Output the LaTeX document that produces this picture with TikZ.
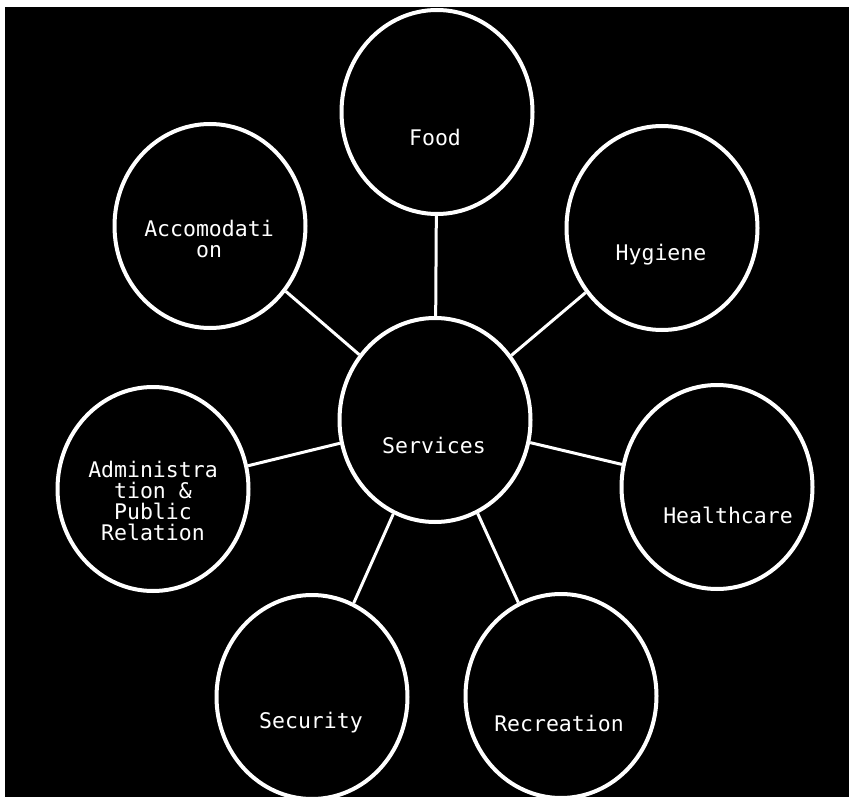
\documentclass[tikz,border=0pt]{standalone}
\usepackage{fontspec}
\setmonofont{DejaVu Sans Mono}
\usetikzlibrary{shapes.geometric}

\begin{document}
\begin{tikzpicture}[x=1pt,y=-1pt,
  bubble/.style={ellipse,draw=white,line width=4pt,minimum width=191pt,minimum height=204pt,inner sep=0pt},
  caption/.style={text=white,font=\ttfamily\fontsize{21.5}{21}\selectfont,align=center,inner sep=0pt},
  spoke/.style={white,line width=3pt}]
\useasboundingbox (0,0) rectangle (849,797);
\fill[white] (0,0) rectangle (849,797);
\fill[black] (5,7) rectangle (856,805);
% the hub and its seven services
\node[bubble] (services) at (435,420) {};
\node[bubble] (food) at (437,112) {};
\node[bubble] (accom) at (210,226) {};
\node[bubble] (hygiene) at (662,228) {};
\node[bubble] (admin) at (153,489) {};
\node[bubble] (health) at (717,487) {};
\node[bubble] (security) at (312,697) {};
\node[bubble] (recreation) at (561,696) {};
\node[caption] (servicestxt) at (434,445) {Services};
\node[caption] (foodtxt) at (435,137) {Food};
\node[caption] (accomtxt) at (209,239) {Accomodati\\on};
\node[caption] (hygienetxt) at (661,255) {Hygiene};
\node[caption] (admintxt) at (153,501) {Administra\\tion \&\\Public\\Relation};
\node[caption] (healthtxt) at (728,515) {Healthcare};
\node[caption] (securitytxt) at (311,723) {Security};
\node[caption] (recreationtxt) at (559,723) {Recreation};
% spokes
\draw[spoke] (services) -- (food);
\draw[spoke] (services) -- (accom);
\draw[spoke] (services) -- (hygiene);
\draw[spoke] (services) -- (admin);
\draw[spoke] (services) -- (health);
\draw[spoke] (services) -- (security);
\draw[spoke] (services) -- (recreation);
\end{tikzpicture}
\end{document}
